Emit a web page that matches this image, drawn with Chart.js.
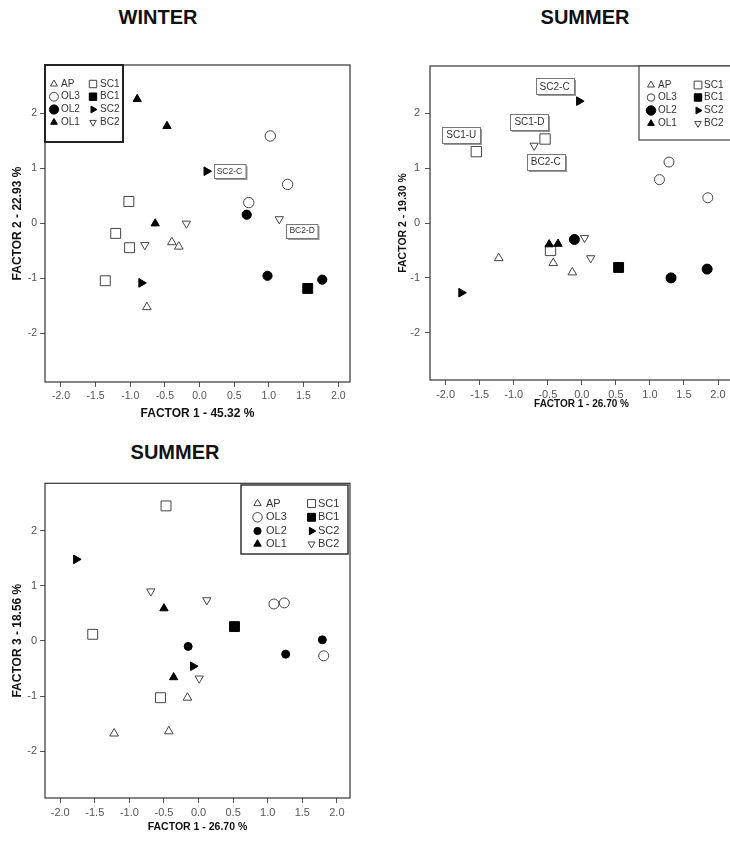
<!DOCTYPE html>
<html>
<head>
<meta charset="utf-8">
<title>Factor scores by season</title>
<script src="https://cdn.jsdelivr.net/npm/chart.js@4.4.1/dist/chart.umd.min.js"></script>
<style>
  html, body { margin: 0; padding: 0; background: #fff; overflow: hidden; }
  body { width: 730px; height: 841px; position: relative; }
  canvas { position: absolute; }
  .season {
    position: absolute;
    font: bold 20px "Liberation Sans", Arial, sans-serif;
    line-height: 20px;
    color: #111;
    transform: translateX(-50%);
    white-space: nowrap;
  }
</style>
</head>
<body>
<div class="season" style="left:158px; top:7px">WINTER</div>
<div class="season" style="left:585px; top:7px">SUMMER</div>
<div class="season" style="left:175px; top:442px">SUMMER</div>

<canvas id="winterChart" width="365" height="390" style="left:0; top:40px"></canvas>
<canvas id="summerChart" width="380" height="390" style="left:370px; top:40px"></canvas>
<canvas id="summerF3Chart" width="365" height="371" style="left:0; top:470px"></canvas>

<script>
const groups = ['AP', 'OL3', 'OL2', 'OL1', 'SC1', 'BC1', 'SC2', 'BC2'];
const xTicks = [-2.0, -1.5, -1.0, -0.5, 0.0, 0.5, 1.0, 1.5, 2.0];
const yTicks = [-2, -1, 0, 1, 2];

// winter scores: factor 1 / factor 2, one row per group
const winterF1 = [
  [-0.40, -0.30, -0.76],
  [1.02, 1.27, 0.71],
  [0.68, 0.98, 1.77],
  [-0.90, -0.47, -0.64],
  [-1.02, -1.21, -1.01, -1.36],
  [1.56],
  [0.10, -0.84],
  [1.15, -0.19, -0.79]
];
const winterF2 = [
  [-0.34, -0.42, -1.52],
  [1.59, 0.71, 0.38],
  [0.16, -0.95, -1.02],
  [2.26, 1.77, 0.00],
  [0.40, -0.18, -0.44, -1.04],
  [-1.18],
  [0.95, -1.08],
  [0.08, 0.00, -0.39]
];

// summer scores: factor 1 / factor 2
const summerF1 = [
  [-1.22, -0.42, -0.14],
  [1.28, 1.14, 1.85],
  [-0.11, 1.31, 1.84],
  [-0.48, -0.35],
  [-1.55, -0.54, -0.46],
  [0.54],
  [-0.04, -1.77],
  [-0.70, 0.04, 0.13]
];
const summerF2 = [
  [-0.64, -0.73, -0.90],
  [1.11, 0.79, 0.46],
  [-0.30, -1.00, -0.84],
  [-0.39, -0.38],
  [1.30, 1.53, -0.50],
  [-0.81],
  [2.22, -1.27],
  [1.41, -0.27, -0.64]
];

// summer scores: factor 1 / factor 3
const summerF1b = [
  [-0.16, -1.22, -0.43],
  [1.09, 1.24, 1.81],
  [-0.15, 1.79, 1.26],
  [-0.50, -0.36],
  [-0.47, -1.53, -0.55],
  [0.52],
  [-1.77, -0.08],
  [-0.69, 0.12, 0.01]
];
const summerF3 = [
  [-1.03, -1.68, -1.64],
  [0.67, 0.69, -0.27],
  [-0.10, 0.02, -0.24],
  [0.59, -0.66],
  [2.45, 0.12, -1.03],
  [0.26],
  [1.48, -0.46],
  [0.90, 0.74, -0.68]
];

// boxed site tags
const winterTags = ['SC2-C', 'BC2-D'];
const winterTagF1 = [0.43, 1.48];
const winterTagF2 = [0.96, -0.13];
const summerTags = ['SC2-C', 'SC1-D', 'SC1-U', 'BC2-C'];
const summerTagF1 = [-0.40, -0.77, -1.77, -0.53];
const summerTagF2 = [2.49, 1.84, 1.61, 1.12];

// marker look per group (same order as groups)
const markerStyle = ['triangle', 'circle', 'circle', 'triangle', 'rect', 'rect', 'triangle', 'triangle'];
const markerRotation = [0, 0, 0, 0, 0, 0, 90, 180];
const markerFilled = [false, false, true, true, false, true, true, false];

const FONT = '"Liberation Sans", Arial, sans-serif';

// box around the plot area
const frame = {
  id: 'frame',
  beforeDatasetsDraw(chart) {
    const { ctx, chartArea: a } = chart;
    ctx.save();
    ctx.strokeStyle = '#333';
    ctx.lineWidth = 1.2;
    ctx.strokeRect(a.left, a.top, a.right - a.left, a.bottom - a.top);
    ctx.restore();
  }
};

// two-column legend inside a bordered box
const gridLegend = {
  id: 'gridLegend',
  afterDatasetsDraw(chart, args, o) {
    const ctx = chart.ctx;
    const [bx, by, bw, bh] = o.box;
    ctx.save();
    ctx.fillStyle = '#fff';
    ctx.fillRect(bx, by, bw, bh);
    ctx.strokeStyle = o.borderColor;
    ctx.lineWidth = o.lineWidth;
    ctx.strokeRect(bx, by, bw, bh);
    ctx.font = o.fontSize + 'px ' + FONT;
    ctx.textBaseline = 'middle';
    chart.data.datasets.forEach((ds, i) => {
      const col = Math.floor(i / 4);
      const row = i % 4;
      const y = o.rowY[row];
      ctx.fillStyle = ds.backgroundColor;
      ctx.strokeStyle = ds.borderColor;
      ctx.lineWidth = 1;
      Chart.helpers.drawPoint(ctx, {
        pointStyle: ds.pointStyle,
        rotation: ds.rotation,
        radius: ds.pointRadius * o.markerScale[i],
        borderWidth: 1
      }, o.markerX[col], y);
      ctx.fillStyle = '#333';
      ctx.fillText(ds.label, o.textX[col], y);
    });
    ctx.restore();
  }
};

// small boxed tags placed at score coordinates
const tagBoxes = {
  id: 'tagBoxes',
  afterDatasetsDraw(chart, args, o) {
    if (!o.text) return;
    const { ctx } = chart;
    const sx = chart.scales.x, sy = chart.scales.y;
    ctx.save();
    ctx.font = o.fontSize + 'px ' + FONT;
    ctx.textAlign = 'center';
    ctx.textBaseline = 'middle';
    o.text.forEach((t, i) => {
      const cx = sx.getPixelForValue(o.f1[i]);
      const cy = sy.getPixelForValue(o.f2[i]);
      const w = ctx.measureText(t).width + o.padX * 2;
      const h = o.height;
      const x = Math.round(cx - w / 2) + 0.5, y = Math.round(cy - h / 2) + 0.5;
      ctx.fillStyle = '#999';
      ctx.fillRect(x + 1.5, y + 1.5, w, h);
      ctx.fillStyle = '#fff';
      ctx.fillRect(x, y, w, h);
      ctx.strokeStyle = '#777';
      ctx.lineWidth = 1;
      ctx.strokeRect(x, y, w, h);
      ctx.fillStyle = '#333';
      ctx.fillText(t, cx, cy + 0.5);
    });
    ctx.restore();
  }
};

function scatterPanel(id, xs, ys, cfg) {
  const datasets = groups.map((name, i) => ({
    label: name,
    data: xs[i].map((v, k) => ({ x: v, y: ys[i][k] })),
    pointStyle: markerStyle[i],
    rotation: markerRotation[i],
    pointRadius: cfg.radius[i],
    pointHoverRadius: cfg.radius[i],
    backgroundColor: markerFilled[i] ? '#000' : '#fff',
    borderColor: markerFilled[i] ? '#000' : '#444',
    borderWidth: 1
  }));

  return new Chart(document.getElementById(id), {
    type: 'scatter',
    data: { datasets },
    plugins: [frame, gridLegend, tagBoxes],
    options: {
      responsive: false,
      animation: false,
      events: [],
      layout: { padding: cfg.padding, autoPadding: false },
      plugins: {
        legend: { display: false },
        tooltip: { enabled: false },
        gridLegend: cfg.legend,
        tagBoxes: cfg.tags || {}
      },
      scales: {
        x: {
          type: 'linear',
          min: cfg.xRange[0],
          max: cfg.xRange[1],
          afterBuildTicks: s => { s.ticks = xTicks.map(v => ({ value: v })); },
          afterFit: s => { s.height = cfg.xHeight; },
          border: { display: false },
          grid: { drawOnChartArea: false, drawTicks: true, tickLength: 5, color: '#555', lineWidth: 1 },
          ticks: {
            padding: 3, color: '#555', autoSkip: false, maxRotation: 0,
            font: { family: FONT, size: cfg.tickSize },
            callback: v => v.toFixed(1)
          },
          title: {
            display: true, text: cfg.xTitle, color: '#111',
            font: { family: FONT, size: cfg.xTitleSize, weight: 'bold' },
            padding: { top: 0, bottom: cfg.xTitlePad }
          }
        },
        y: {
          type: 'linear',
          min: cfg.yRange[0],
          max: cfg.yRange[1],
          afterBuildTicks: s => { s.ticks = yTicks.map(v => ({ value: v })); },
          afterFit: s => { s.width = cfg.yWidth; },
          border: { display: false },
          grid: { drawOnChartArea: false, drawTicks: true, tickLength: 5, color: '#555', lineWidth: 1 },
          ticks: {
            padding: cfg.yTickPad, color: '#555',
            font: { family: FONT, size: cfg.tickSize },
            callback: v => String(v)
          },
          title: {
            display: true, text: cfg.yTitle, color: '#111',
            font: { family: FONT, size: cfg.yTitleSize, weight: 'bold' },
            padding: { top: cfg.yTitlePad, bottom: 0 }
          }
        }
      }
    }
  });
}

scatterPanel('winterChart', winterF1, winterF2, {
  xRange: [-2.23, 2.17],
  yRange: [-2.88, 2.88],
  padding: { left: 0, top: 25, right: 15, bottom: 0 },
  yWidth: 45,
  xHeight: 48,
  tickSize: 10.5,
  yTickPad: 3,
  xTitle: 'FACTOR 1 - 45.32 %',
  yTitle: 'FACTOR 2 - 22.93 %',
  xTitleSize: 12, xTitlePad: 9.5,
  yTitleSize: 12, yTitlePad: 10.3,
  radius: [5, 5.2, 4.6, 4.8, 7, 7, 5, 4.8],
  legend: {
    box: [45, 25, 78, 77], borderColor: '#222', lineWidth: 2,
    markerX: [54, 93], textX: [61, 100], rowY: [44, 56.7, 69.5, 82.3],
    fontSize: 10, markerScale: [0.8, 0.85, 1.0, 0.8, 0.75, 0.75, 0.8, 0.8]
  },
  tags: { text: winterTags, f1: winterTagF1, f2: winterTagF2, fontSize: 8.5, padX: 3, height: 14 }
});

scatterPanel('summerChart', summerF1, summerF2, {
  xRange: [-2.23, 2.22],
  yRange: [-2.86, 2.86],
  padding: { left: 0, top: 26, right: 17, bottom: 0 },
  yWidth: 60,
  xHeight: 50,
  tickSize: 11,
  yTickPad: 5,
  xTitle: 'FACTOR 1 - 26.70 %',
  yTitle: 'FACTOR 2 - 19.30 %',
  xTitleSize: 10, xTitlePad: 19.5,
  yTitleSize: 10.5, yTitlePad: 27,
  radius: [5, 5, 5, 4.8, 7.3, 7, 5, 4.8],
  legend: {
    box: [269, 26, 130, 74], borderColor: '#444', lineWidth: 1.2,
    markerX: [281, 328], textX: [288, 334], rowY: [45, 57.5, 70.5, 83.5],
    fontSize: 10, markerScale: [0.8, 0.75, 0.95, 0.8, 0.75, 0.75, 0.8, 0.8]
  },
  tags: { text: summerTags, f1: summerTagF1, f2: summerTagF2, fontSize: 10, padX: 4, height: 16 }
});

scatterPanel('summerF3Chart', summerF1b, summerF3, {
  xRange: [-2.22, 2.19],
  yRange: [-2.85, 2.86],
  padding: { left: 0, top: 13.3, right: 15, bottom: 0 },
  yWidth: 45,
  xHeight: 43,
  tickSize: 11,
  yTickPad: 3,
  xTitle: 'FACTOR 1 - 26.70 %',
  yTitle: 'FACTOR 3 - 18.56 %',
  xTitleSize: 10.5, xTitlePad: 7.7,
  yTitleSize: 12, yTitlePad: 10.8,
  radius: [5, 5, 4, 4.8, 7, 7, 5, 4.8],
  legend: {
    box: [241, 15, 107, 69], borderColor: '#333', lineWidth: 1.5,
    markerX: [257.5, 311.5], textX: [266, 318], rowY: [33.5, 47.3, 61, 74],
    fontSize: 11, markerScale: [0.85, 0.95, 0.9, 0.9, 0.8, 0.8, 0.85, 0.85]
  }
});
</script>
</body>
</html>
